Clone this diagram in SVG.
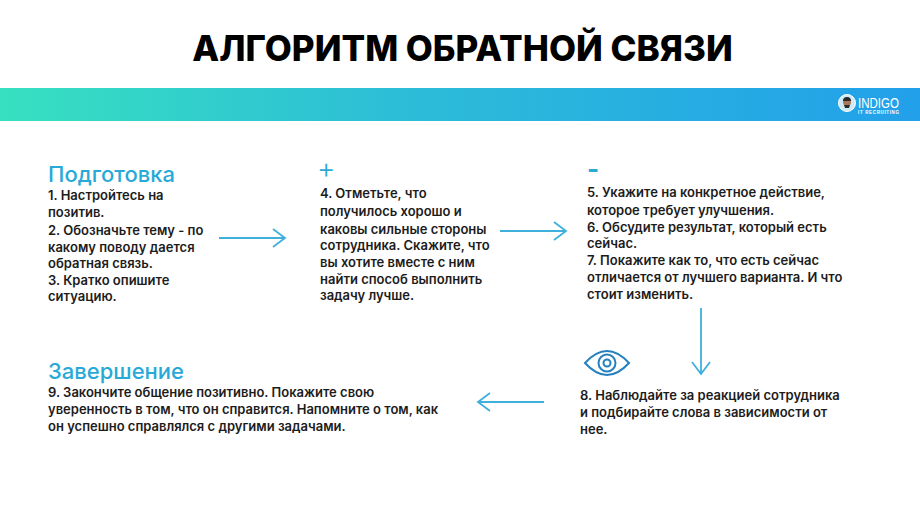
<svg xmlns="http://www.w3.org/2000/svg" width="920" height="518" viewBox="0 0 920 518">
<style>
.b{font-family:"Inter","Noto Sans",sans-serif;font-size:13px;font-weight:600;fill:#1c1c1c}
.h{font-family:"Inter","Noto Sans",sans-serif;font-size:22px;font-weight:500;fill:#28a9d8}
.a{fill:none;stroke:#3fb0dc;stroke-width:1.8}
</style>
<defs><linearGradient id="g" x1="0" x2="1" y1="0" y2="0"><stop offset="0" stop-color="#37e0c0"/><stop offset=".45" stop-color="#2cbcd8"/><stop offset="1" stop-color="#22a0ea"/></linearGradient></defs>
<rect width="920" height="518" fill="#fff"/>
<text x="462.500" y="61" text-anchor="middle" font-family="Inter,'Noto Sans',sans-serif" font-size="35" font-weight="800" fill="#000">АЛГОРИТМ ОБРАТНОЙ СВЯЗИ</text>
<rect y="88" width="920" height="33" fill="url(#g)"/>
<g id="logo">
<circle cx="847" cy="103" r="8.500" fill="#cfe9f7" stroke="#fff"/>
<circle cx="847" cy="102" r="4" fill="#a8785a"/>
<path d="M843 101a4 4 0 0 1 8 0zM844 105h6l-1 3h-4z" fill="#2a2a2a"/>
<text x="858" y="108" font-family="'Liberation Sans',sans-serif" font-size="15" fill="#fff" textLength="41" lengthAdjust="spacingAndGlyphs">INDIGO</text>
<text x="858" y="114" font-family="'Liberation Sans',sans-serif" font-size="4.500" font-weight="700" fill="#fff" textLength="41">IT RECRUITING</text>
</g>
<g id="node-prep">
<text class="h" x="48" y="182">Подготовка</text>
<text class="b" x="48" y="200">1. Настройтесь на</text>
<text class="b" x="48" y="217">позитив.</text>
<text class="b" x="48" y="235">2. Обозначьте тему - по</text>
<text class="b" x="48" y="252">какому поводу дается</text>
<text class="b" x="48" y="268">обратная связь.</text>
<text class="b" x="48" y="285">3. Кратко опишите</text>
<text class="b" x="48" y="301">ситуацию.</text>
</g>
<g id="node-plus">
<text x="317" y="178" font-family="Inter,sans-serif" font-size="28" font-weight="300" fill="#28a9d8">+</text>
<text class="b" x="320" y="198">4. Отметьте, что</text>
<text class="b" x="320" y="216">получилось хорошо и</text>
<text class="b" x="320" y="234">каковы сильные стороны</text>
<text class="b" x="320" y="250">сотрудника. Скажите, что</text>
<text class="b" x="320" y="267">вы хотите вместе с ним</text>
<text class="b" x="320" y="284">найти способ выполнить</text>
<text class="b" x="320" y="300">задачу лучше.</text>
</g>
<g id="node-minus">
<text x="587" y="178" font-family="Inter,sans-serif" font-size="26" font-weight="700" fill="#28a9d8">-</text>
<text class="b" x="587" y="197">5. Укажите на конкретное действие,</text>
<text class="b" x="587" y="215">которое требует улучшения.</text>
<text class="b" x="587" y="232">6. Обсудите результат, который есть</text>
<text class="b" x="587" y="248">сейчас.</text>
<text class="b" x="587" y="265">7. Покажите как то, что есть сейчас</text>
<text class="b" x="587" y="282">отличается от лучшего варианта. И что</text>
<text class="b" x="587" y="299">стоит изменить.</text>
</g>
<g id="node-eye">
<g fill="none" stroke="#2580c0" stroke-width="2"><path d="M585 363q22-24 44 0q-22 24-44 0z"/><circle cx="607" cy="363" r="8.500"/><circle cx="607" cy="363" r="3.500"/></g>
<text class="b" x="580" y="400">8. Наблюдайте за реакцией сотрудника</text>
<text class="b" x="580" y="417">и подбирайте слова в зависимости от</text>
<text class="b" x="580" y="434">нее.</text>
</g>
<g id="node-end">
<text class="h" x="48" y="379">Завершение</text>
<text class="b" x="48" y="397">9. Закончите общение позитивно. Покажите свою</text>
<text class="b" x="48" y="414">уверенность в том, что он справится. Напомните о том, как</text>
<text class="b" x="48" y="431">он успешно справлялся с другими задачами.</text>
</g>
<g id="connectors">
<path class="a" d="M219 238H285M273 229l12 9-12 9"/>
<path class="a" d="M500 231H566M554 222l12 9-12 9"/>
<path class="a" d="M701 308V374M692 362l9 12 9-12"/>
<path class="a" d="M544 402H478M490 393l-12 9 12 9"/>
</g>
</svg>
